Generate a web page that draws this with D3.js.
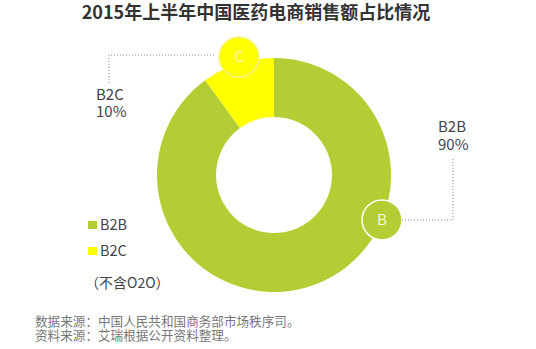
<!DOCTYPE html>
<html><head><meta charset="utf-8">
<script src="https://cdn.jsdelivr.net/npm/d3@7"></script>
<style>
html,body{margin:0;padding:0;background:#fff;}
svg{display:block;}
text{font-family:"Noto Sans CJK SC","Noto Sans",sans-serif;}
</style></head>
<body>
<svg id="chart" width="536" height="349"></svg>
<script>
const title = "2015年上半年中国医药电商销售额占比情况";
const categories = ["B2B", "B2C"];
const values = [90, 10];
const badges = ["B", "C"];
const note = "（不含O2O）";
const sources = ["数据来源：中国人民共和国商务部市场秩序司。", "资料来源：艾瑞根据公开资料整理。"];

const colors = ["#b3ce35", "#ffff00"];
const textColor = "#444";
const svg = d3.select("#chart");

svg.append("text").attr("x", 256).attr("y", 19).attr("text-anchor", "middle")
  .attr("font-size", 18).attr("font-weight", "bold").attr("fill", "#333").text(title);

const cx = 274, cy = 175, rOuter = 117, rInner = 58;
const g = svg.append("g").attr("transform", `translate(${cx},${cy})`);
const pie = d3.pie().sort(null).value(d => d)(values);
const arc = d3.arc().innerRadius(rInner).outerRadius(rOuter);
g.selectAll("path.slice").data(pie).join("path").attr("class", "slice")
  .attr("d", arc).attr("fill", (d, i) => colors[i]);

// badges
const badgeAngleB = 112.6 * Math.PI / 180;
const badgePos = pie.map((d, i) => {
  const a = i === 0 ? badgeAngleB : (d.startAngle + d.endAngle) / 2 + 0.025;
  const r = i === 0 ? rOuter : rOuter + 6;
  return [Math.sin(a) * r, -Math.cos(a) * r];
});
const badgeR = 20;
g.selectAll("circle.badge").data(pie).join("circle").attr("class", "badge")
  .attr("cx", (d, i) => badgePos[i][0]).attr("cy", (d, i) => badgePos[i][1])
  .attr("r", badgeR).attr("fill", (d, i) => colors[i])
  .attr("stroke", (d, i) => i === 0 ? "#fff" : "#f4f48a").attr("stroke-width", 1.5);
g.selectAll("text.badge").data(pie).join("text").attr("class", "badge")
  .attr("x", (d, i) => badgePos[i][0]).attr("y", (d, i) => badgePos[i][1] + 5)
  .attr("text-anchor", "middle").attr("font-size", 15)
  .attr("fill", (d, i) => i === 0 ? "#f3f7dc" : "#f8f8c0").text((d, i) => badges[i]);

// leaders
const bx = cx + badgePos[0][0], by = cy + badgePos[0][1];
const c_x = cx + badgePos[1][0];
const leaderStyle = sel => sel.attr("fill", "none").attr("stroke", "#888")
  .attr("stroke-width", 1).attr("stroke-dasharray", "1,2");
svg.append("path").attr("d", `M${bx + badgeR},${by}H453V159`).call(leaderStyle);
svg.append("path").attr("d", `M${c_x - badgeR - 5},55H109V83`).call(leaderStyle);

// callout labels
const fmt = v => v + "%";
svg.append("text").attr("x", 438).attr("y", 132).attr("font-size", 15).attr("fill", textColor).text(categories[0]);
svg.append("text").attr("x", 438).attr("y", 150).attr("font-size", 15).attr("fill", textColor).text(fmt(values[0]));
svg.append("text").attr("x", 96).attr("y", 100).attr("font-size", 15).attr("fill", textColor).text(categories[1]);
svg.append("text").attr("x", 96).attr("y", 117).attr("font-size", 15).attr("fill", textColor).text(fmt(values[1]));

// legend
const leg = svg.append("g");
categories.forEach((c, i) => {
  const y = 221 + i * 26;
  leg.append("rect").attr("x", 88).attr("y", y).attr("width", 9).attr("height", 8).attr("fill", colors[i]);
  leg.append("text").attr("x", 100).attr("y", y + 9).attr("font-size", 14.5).attr("fill", textColor).text(c);
});
svg.append("text").attr("x", 85).attr("y", 288).attr("font-size", 14).attr("fill", textColor).text(note);

sources.forEach((s, i) => {
  svg.append("text").attr("x", 35).attr("y", 326 + i * 14).attr("font-size", 12.6).attr("fill", "#777").text(s);
});
</script>
</body></html>
